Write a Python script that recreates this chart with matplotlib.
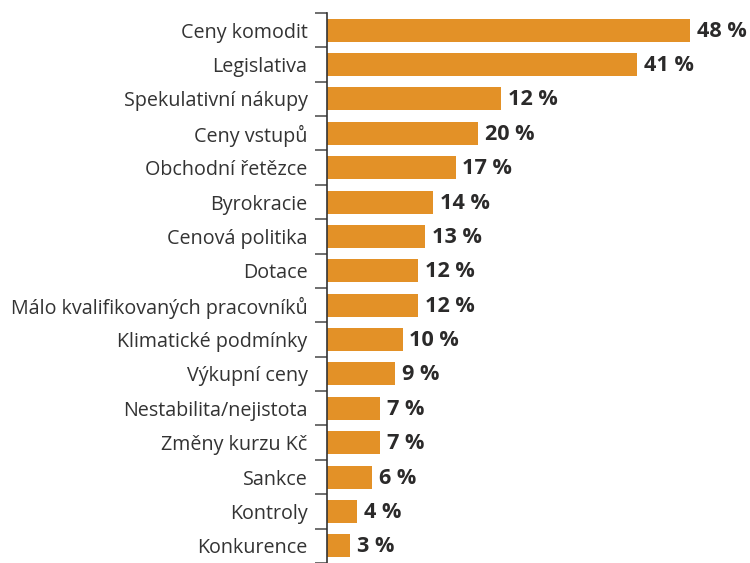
import numpy as np
import matplotlib.pyplot as plt
from matplotlib.ticker import FixedLocator, NullLocator

# data (top to bottom)
categories = ['Ceny komodit', 'Legislativa', 'Spekulativní nákupy', 'Ceny vstupů',
              'Obchodní řetězce', 'Byrokracie', 'Cenová politika', 'Dotace',
              'Málo kvalifikovaných pracovníků', 'Klimatické podmínky', 'Výkupní ceny',
              'Nestabilita/nejistota', 'Změny kurzu Kč', 'Sankce', 'Kontroly', 'Konkurence']
values = [48, 41, 23, 20, 17, 14, 13, 12, 12, 10, 9, 7, 7, 6, 4, 3]
value_labels = ['48 %', '41 %', '12 %', '20 %', '17 %', '14 %', '13 %', '12 %',
                '12 %', '10 %', '9 %', '7 %', '7 %', '6 %', '4 %', '3 %']

orange = '#E39127'
dark = '#2B2A2A'

plt.rcParams['font.family'] = ['Open Sans', 'DejaVu Sans']

fig = plt.figure(figsize=(7.5, 5.63), dpi=100)
ax = fig.add_axes([0.436, 0.0, 0.564, 0.977])

y = np.arange(len(categories))
ax.barh(y, values, height=0.67, color=orange)

for yi, v, lab in zip(y, values, value_labels):
    ax.text(v + 0.9, yi + 0.03, lab, va='center', ha='left', fontsize=15.6,
            fontweight='bold', color=dark)

ax.set_xlim(0, 55.9)
ax.set_ylim(len(categories) - 0.5, -0.5)
ax.set_yticks(y)
ax.set_yticklabels(categories, fontsize=14.2, color='#333333')
ax.tick_params(axis='y', which='major', length=0, pad=14)
ax.yaxis.set_minor_locator(FixedLocator(np.arange(-0.5, len(categories), 1)))
ax.tick_params(axis='y', which='minor', length=9, width=1.2, color='#555555')
ax.xaxis.set_major_locator(NullLocator())

for s in ['top', 'right', 'bottom']:
    ax.spines[s].set_visible(False)
ax.spines['left'].set_color('#333333')
ax.spines['left'].set_linewidth(1.2)

fig.savefig('out.png', dpi=100)
